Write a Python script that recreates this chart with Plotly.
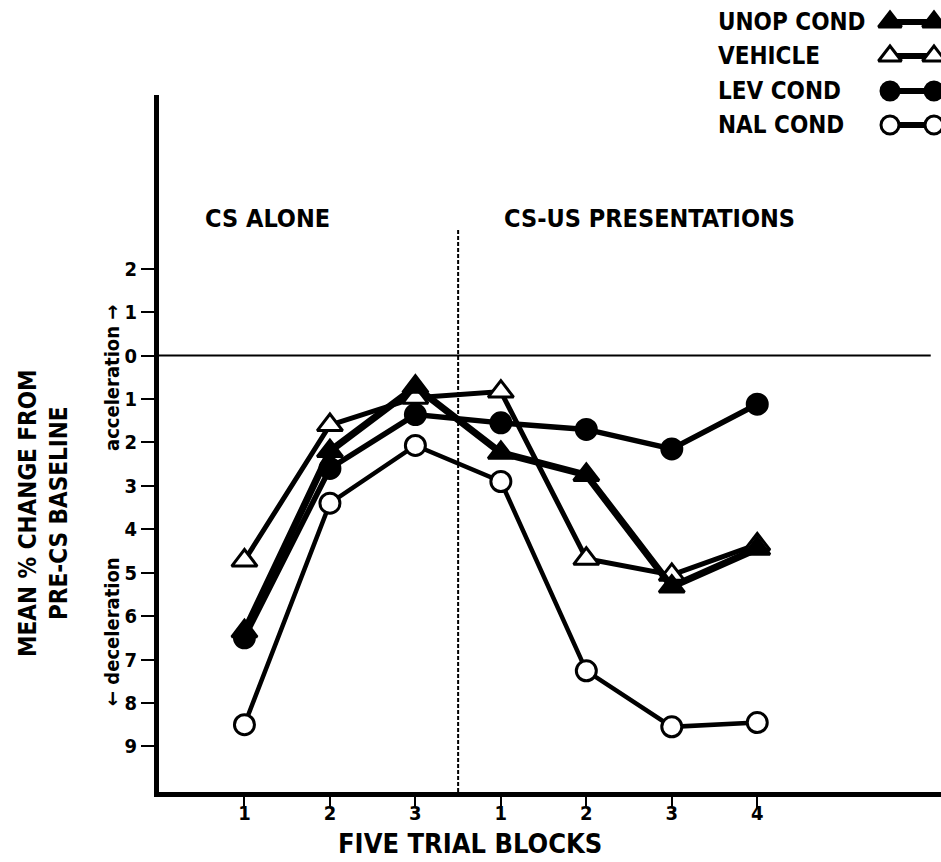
import plotly.graph_objects as go

# ---- data ----
blocks = [1, 2, 3, 4, 5, 6, 7]
block_labels = ["1", "2", "3", "1", "2", "3", "4"]
unop_cond = [-6.35, -2.2, -0.72, -2.24, -2.75, -5.32, -4.45]
vehicle = [-4.72, -1.6, -0.97, -0.83, -4.68, -5.05, -4.35]
lev_cond = [-6.5, -2.6, -1.36, -1.55, -1.7, -2.15, -1.12]
nal_cond = [-8.5, -3.4, -2.07, -2.9, -7.26, -8.55, -8.45]
y_tickvals = [2, 1, 0, -1, -2, -3, -4, -5, -6, -7, -8, -9]
y_ticktext = ["2", "1", "0", "1", "2", "3", "4", "5", "6", "7", "8", "9"]
legend_names = ["UNOP COND", "VEHICLE", "LEV COND", "NAL COND"]

FONT = "Liberation Sans Narrow, DejaVu Sans Condensed, Arial Narrow, sans-serif"
W, H = 941, 862
ML, MB = 159, 70
PW, PH = W - ML, H - MB  # plot area incl. legend region

styles = {
    "UNOP COND": dict(symbol="triangle-up", color="black", lw=7, size=22),
    "VEHICLE": dict(symbol="triangle-up", color="white", lw=5, size=22),
    "LEV COND": dict(symbol="circle", color="black", lw=5.5, size=20),
    "NAL COND": dict(symbol="circle", color="white", lw=4.5, size=20),
}
series = {"UNOP COND": unop_cond, "VEHICLE": vehicle, "LEV COND": lev_cond, "NAL COND": nal_cond}

fig = go.Figure()

for name in ["NAL COND", "LEV COND", "VEHICLE", "UNOP COND"]:
    s = styles[name]
    fig.add_trace(go.Scatter(
        x=blocks, y=series[name], mode="lines+markers", name=name,
        line=dict(color="black", width=s["lw"]),
        marker=dict(symbol=s["symbol"], size=s["size"], color=s["color"],
                    line=dict(color="black", width=3)),
        showlegend=False, cliponaxis=False,
    ))

# manual legend (text left, symbol right) in a pixel-space axis covering the whole plot region
row_y = [22, 56, 91, 125]
for name, ry in zip(legend_names, row_y):
    s = styles[name]
    fig.add_trace(go.Scatter(
        x=[890, 934], y=[ry, ry], mode="lines+markers", xaxis="x2", yaxis="y2",
        line=dict(color="black", width=6),
        marker=dict(symbol=s["symbol"], size=s["size"] - 2, color=s["color"],
                    line=dict(color="black", width=3)),
        showlegend=False, cliponaxis=False, hoverinfo="skip",
    ))
    fig.add_annotation(x=716, y=ry, xref="x2", yref="y2", text=name, showarrow=False,
                       xanchor="left", yanchor="middle",
                       font=dict(family=FONT, size=24, color="black", weight="bold"))

# zero line and dashed separator
fig.add_shape(type="line", x0=0, x1=9.03, y0=0, y1=0, xref="x", yref="y",
              line=dict(color="black", width=2))
fig.add_shape(type="line", x0=3.5, x1=3.5, y0=-10.05, y1=2.93, xref="x", yref="y",
              line=dict(color="black", width=2, dash="4px,2px"))

def px_x(px):
    return (px - ML) / PW

def px_y(py):
    return (PH - py) / PH

ann_font = dict(family=FONT, size=25, color="black", weight="bold")
fig.add_annotation(x=px_x(203), y=px_y(218), xref="paper", yref="paper", text="CS ALONE",
                   showarrow=False, xanchor="left", yanchor="middle", font=ann_font)
fig.add_annotation(x=px_x(502), y=px_y(218), xref="paper", yref="paper", text="CS-US PRESENTATIONS",
                   showarrow=False, xanchor="left", yanchor="middle", font=ann_font)
fig.add_annotation(x=px_x(43), y=px_y(513), xref="paper", yref="paper",
                   text="MEAN % CHANGE FROM<br>PRE-CS BASELINE", textangle=-90,
                   showarrow=False, xanchor="center", yanchor="middle",
                   font=dict(family=FONT, size=24, color="black", weight="bold"))
fig.add_annotation(x=px_x(112), y=px_y(378), xref="paper", yref="paper",
                   text="acceleration \u2192", textangle=-90,
                   showarrow=False, xanchor="center", yanchor="middle",
                   font=dict(family=FONT, size=20, color="black", weight="bold"))
fig.add_annotation(x=px_x(112), y=px_y(632), xref="paper", yref="paper",
                   text="\u2190 deceleration", textangle=-90,
                   showarrow=False, xanchor="center", yanchor="middle",
                   font=dict(family=FONT, size=20, color="black", weight="bold"))
fig.add_annotation(x=px_x(470), y=px_y(843), xref="paper", yref="paper",
                   text="FIVE TRIAL BLOCKS", showarrow=False,
                   xanchor="center", yanchor="middle",
                   font=dict(family=FONT, size=27, color="black", weight="bold"))

fig.update_layout(
    width=W, height=H,
    margin=dict(l=ML, r=0, t=0, b=MB),
    paper_bgcolor="white", plot_bgcolor="rgba(0,0,0,0)",
    showlegend=False,
    xaxis=dict(range=[0, 9.15], domain=[0, 1], tickvals=blocks, ticktext=block_labels,
               ticks="outside", ticklen=11, tickwidth=2, tickcolor="black",
               ticklabelstandoff=-12,
               showline=True, linewidth=5, linecolor="black", showgrid=False, zeroline=False,
               tickfont=dict(family=FONT, size=20, color="black", weight="bold")),
    yaxis=dict(range=[-10.05, 6], domain=[0, (PH - 95) / PH], tickvals=y_tickvals, ticktext=y_ticktext,
               ticks="outside", ticklen=13, tickwidth=2, tickcolor="black",
               showline=True, linewidth=5, linecolor="black", showgrid=False, zeroline=False,
               tickfont=dict(family=FONT, size=20, color="black", weight="bold")),
    xaxis2=dict(range=[ML, W], domain=[0, 1], anchor="y2", visible=False, fixedrange=True),
    yaxis2=dict(range=[PH, 0], domain=[0, 1], anchor="x2", visible=False, fixedrange=True),
)

fig.write_html("out.html", config={"displayModeBar": False},
               post_script="document.body.style.margin='0px';")
